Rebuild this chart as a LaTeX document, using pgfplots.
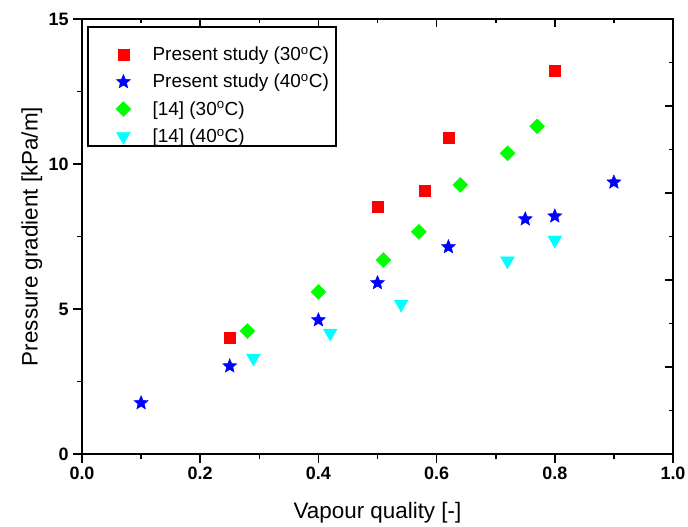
\documentclass[border=0pt]{standalone}
\usepackage{pgfplots}
\pgfplotsset{compat=1.18}
\usepackage{pgfplotstable}
\usepackage{fontspec}
\setmainfont{Liberation Sans}
\pgfdeclareplotmark{fstar}{%
  \pgfpathmoveto{\pgfqpointpolar{90}{\pgfplotmarksize}}%
  \pgfpathlineto{\pgfqpointpolar{126}{0.45\pgfplotmarksize}}%
  \pgfpathlineto{\pgfqpointpolar{162}{\pgfplotmarksize}}%
  \pgfpathlineto{\pgfqpointpolar{198}{0.45\pgfplotmarksize}}%
  \pgfpathlineto{\pgfqpointpolar{234}{\pgfplotmarksize}}%
  \pgfpathlineto{\pgfqpointpolar{270}{0.45\pgfplotmarksize}}%
  \pgfpathlineto{\pgfqpointpolar{306}{\pgfplotmarksize}}%
  \pgfpathlineto{\pgfqpointpolar{342}{0.45\pgfplotmarksize}}%
  \pgfpathlineto{\pgfqpointpolar{18}{\pgfplotmarksize}}%
  \pgfpathlineto{\pgfqpointpolar{54}{0.45\pgfplotmarksize}}%
  \pgfpathclose
  \pgfusepathqfillstroke
}
\definecolor{cred}{RGB}{255,0,0}
\definecolor{cblue}{RGB}{0,0,255}
\definecolor{cgreen}{RGB}{0,255,0}
\definecolor{ccyan}{RGB}{0,255,255}
\pgfplotstableread{
x y
0.25 4.0
0.50 8.52
0.58 9.07
0.62 10.9
0.80 13.2
}\redsq
\pgfplotstableread{
x y
0.10 1.76
0.25 3.03
0.40 4.62
0.50 5.90
0.62 7.14
0.75 8.10
0.80 8.20
0.90 9.37
}\bluestar
\pgfplotstableread{
x y
0.28 4.24
0.40 5.59
0.51 6.69
0.57 7.66
0.64 9.28
0.72 10.37
0.77 11.30
}\greendia
\pgfplotstableread{
x y
0.29 3.31
0.42 4.17
0.54 5.17
0.72 6.66
0.80 7.38
}\cyantri
\begin{document}
\begin{tikzpicture}
\path[use as bounding box] (-82bp,-73bp) rectangle (606bp,454bp);
\begin{axis}[
  at={(0,0)}, anchor=south west,
  scale only axis, width=591bp, height=435bp,
  xmin=0, xmax=1, ymin=0, ymax=15,
  xtick={0,0.2,...,1.0}, minor xtick={0.1,0.3,0.5,0.7,0.9},
  ytick={0,5,10,15}, minor ytick={2.5,7.5,12.5},
  xtick pos=left, ytick pos=left, tick align=outside,
  major tick length=9bp, minor tick length=5bp,
  every tick/.style={black, line width=1.6bp},
  axis line style={line width=1.6bp},
  /pgf/number format/assume math mode=true,
  tick label style={font=\fontsize{18}{18}\selectfont\bfseries},
  xticklabel style={/pgf/number format/.cd, fixed, fixed zerofill, precision=1},
  yticklabel style={xshift=-1bp},
  xlabel={Vapour quality [-]},
  ylabel={Pressure gradient [kPa/m]},
  label style={font=\fontsize{22.5}{23}\selectfont},
  xlabel style={at={(axis description cs:0.5,-0.136)}, anchor=center},
  ylabel style={at={(axis description cs:-0.085,0.5)}, anchor=center},
  legend image code/.code={\path (-16bp,0bp) (25bp,0bp); \draw plot coordinates {(0bp,0bp)};},
  legend style={at={(axis description cs:0.0102,0.9405)}, anchor=north west,
    draw=none, fill=none, font=\fontsize{19}{19}\selectfont,
    legend cell align=left, row sep=8bp, column sep=2bp, inner xsep=19bp, inner ysep=0bp},
]
\draw[line width=1.2bp] (axis description cs:0.0102,0.9816) rectangle (axis description cs:0.4298,0.708);
\addplot[only marks, mark=square*, mark size=5.5bp, color=cred] table {\redsq};
\addlegendentry{Present study (30\textsuperscript{o}C)}
\addplot[only marks, mark=fstar, mark size=7.4bp, color=cblue, mark options={fill=cblue, line width=0.4bp}] table {\bluestar};
\addlegendentry{Present study (40\textsuperscript{o}C)}
\addplot[only marks, mark=square*, mark size=5.3bp, mark options={rotate=45}, color=cgreen] table {\greendia};
\addlegendentry{[14] (30\textsuperscript{o}C)}
\addplot[only marks, mark=triangle*, mark size=8bp, mark options={rotate=180}, color=ccyan] table {\cyantri};
\addlegendentry{[14] (40\textsuperscript{o}C)}
\end{axis}
\begin{axis}[
  at={(0,0)}, anchor=south west,
  scale only axis, width=591bp, height=435bp,
  xmin=0, xmax=1, ymin=0, ymax=15,
  xtick={0,0.2,...,1.0}, minor xtick={0.1,0.3,0.5,0.7,0.9},
  ytick={3,6,9,12}, minor ytick={1.5,4.5,7.5,10.5,13.5},
  xtick pos=right, ytick pos=right, tick align=inside,
  major tick length=8bp, minor tick length=4.5bp,
  every tick/.style={black, line width=1.6bp},
  axis line style={line width=1.6bp},
  xticklabels={}, yticklabels={},
]
\end{axis}
\end{tikzpicture}
\end{document}
